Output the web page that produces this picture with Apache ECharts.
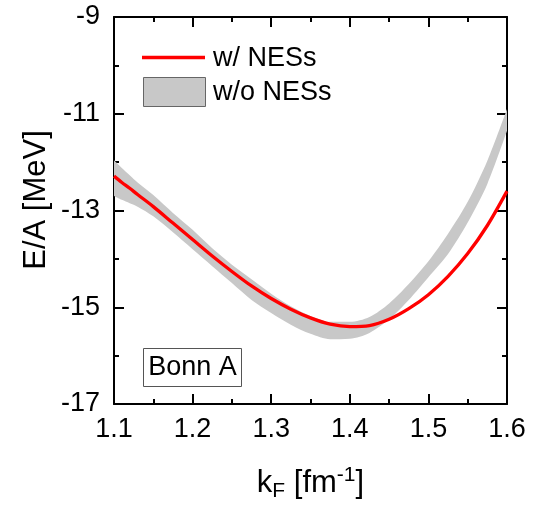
<!DOCTYPE html>
<html>
<head>
<meta charset="utf-8">
<script src="https://cdn.jsdelivr.net/npm/echarts@6/dist/echarts.min.js"></script>
<style>
  html, body { margin: 0; padding: 0; background: #fff; }
  #chart { width: 542px; height: 507px; }
</style>
</head>
<body>
<div id="chart"></div>
<script>
// k_F grid (fm^-1)
var kF = [1.10, 1.11, 1.12, 1.13, 1.15, 1.175, 1.20, 1.225, 1.25, 1.275, 1.30, 1.325, 1.35,
          1.375, 1.40, 1.425, 1.45, 1.475, 1.50, 1.525, 1.55, 1.575, 1.60];
// E/A with NESs (red line)
var withNES = [-12.29, -12.42, -12.54, -12.67, -12.92, -13.26, -13.60, -13.94, -14.26, -14.56, -14.82, -15.04, -15.22,
               -15.35, -15.40, -15.38, -15.25, -15.03, -14.74, -14.36, -13.89, -13.31, -12.60];
// E/A without NESs (grey band)
var noNESLow = [-12.70, -12.78, -12.85, -12.92, -13.12, -13.45, -13.80, -14.15, -14.50, -14.85, -15.12, -15.36, -15.55,
                -15.66, -15.65, -15.53, -15.25, -14.85, -14.38, -13.90, -13.25, -12.45, -11.35];
var noNESHigh = [-11.96, -12.12, -12.27, -12.42, -12.68, -13.05, -13.40, -13.78, -14.12, -14.42, -14.72, -14.98, -15.18,
                 -15.30, -15.30, -15.20, -14.92, -14.52, -14.05, -13.48, -12.82, -11.97, -10.90];
var xTicks = [1.1, 1.2, 1.3, 1.4, 1.5, 1.6];
var yTicks = [-17, -15, -13, -11, -9];

var FONT = '"Liberation Sans", Arial, sans-serif';

// band rows are [E, kF] so the stack works on the E column
var bandBase = [], bandWidth = [], redLine = [];
for (var i = 0; i < kF.length; i++) {
  bandBase.push([noNESLow[i], kF[i]]);
  bandWidth.push([+(noNESHigh[i] - noNESLow[i]).toFixed(3), kF[i]]);
  redLine.push([kF[i], withNES[i]]);
}

function axisCommon(extra) {
  var a = {
    type: 'value',
    axisLine: {show: true, onZero: false, lineStyle: {color: '#000', width: 2}},
    axisTick: {show: true, inside: true, length: 10, lineStyle: {color: '#000', width: 2}},
    minorTick: {show: true, splitNumber: 2, length: 5, lineStyle: {color: '#000', width: 2}},
    splitLine: {show: false},
    minorSplitLine: {show: false}
  };
  for (var k in extra) a[k] = extra[k];
  return a;
}

var chart = echarts.init(document.getElementById('chart'));
chart.setOption({
  animation: false,
  grid: {left: 114, right: 35, top: 17, bottom: 99},
  xAxis: [
    axisCommon({
      position: 'bottom', min: xTicks[0], max: xTicks[xTicks.length - 1], interval: 0.1,
      axisLabel: {margin: 12, fontSize: 27, color: '#000', fontFamily: FONT,
        formatter: function (v) { return v.toFixed(1); }},
      name: 'k{sub|F} [fm{sup|-1}]', nameLocation: 'middle', nameGap: 61,
      nameTextStyle: {fontSize: 31, color: '#000', fontFamily: FONT,
        rich: {
          sub: {fontSize: 21, color: '#000', fontFamily: FONT, verticalAlign: 'bottom', padding: [16, 0, 0, 0]},
          sup: {fontSize: 21, color: '#000', fontFamily: FONT, verticalAlign: 'top', padding: [0, 0, 13, 0]}
        }}
    }),
    axisCommon({
      position: 'top', min: xTicks[0], max: xTicks[xTicks.length - 1], interval: 0.1,
      axisLabel: {show: false}
    })
  ],
  yAxis: [
    axisCommon({
      position: 'left', min: yTicks[0], max: yTicks[yTicks.length - 1], interval: 2,
      axisLabel: {margin: 14, fontSize: 27, color: '#000', fontFamily: FONT}
    }),
    axisCommon({
      position: 'right', min: yTicks[0], max: yTicks[yTicks.length - 1], interval: 2,
      axisLabel: {show: false}
    })
  ],
  graphic: [
    {
      type: 'text', x: 36, y: 200, rotation: Math.PI / 2,
      style: {text: 'E/A [MeV]', font: '31px ' + FONT, fill: '#000', align: 'center', verticalAlign: 'middle'}
    },
    // legend
    {
      type: 'line', shape: {x1: 142, y1: 57.5, x2: 205, y2: 57.5},
      style: {stroke: '#ff0000', lineWidth: 3.5}, z: 10
    },
    {
      type: 'text', x: 213, y: 59, z: 10,
      style: {text: 'w/ NESs', font: '27px ' + FONT, fill: '#000', align: 'left', verticalAlign: 'middle'}
    },
    {
      type: 'rect', shape: {x: 143.5, y: 77.5, width: 62, height: 29},
      style: {fill: '#c8c8c8', stroke: '#666', lineWidth: 1}, z: 10
    },
    {
      type: 'text', x: 213, y: 93, z: 10,
      style: {text: 'w/o NESs', font: '27px ' + FONT, fill: '#000', align: 'left', verticalAlign: 'middle'}
    },
    // model label
    {
      type: 'rect', shape: {x: 143.5, y: 348.5, width: 98, height: 38},
      style: {fill: '#fff', stroke: '#555', lineWidth: 1}, z: 10
    },
    {
      type: 'text', x: 192.5, y: 368, z: 11,
      style: {text: 'Bonn A', font: '27px ' + FONT, fill: '#000', align: 'center', verticalAlign: 'middle'}
    }
  ],
  series: [
    {
      name: 'base', type: 'line', stack: 'band', stackStrategy: 'all', data: bandBase,
      encode: {x: 1, y: 0}, smooth: 0.3,
      symbol: 'none', lineStyle: {opacity: 0}, silent: true
    },
    {
      name: 'w/o NESs', type: 'line', stack: 'band', stackStrategy: 'all', data: bandWidth,
      encode: {x: 1, y: 0}, smooth: 0.3,
      symbol: 'none', lineStyle: {width: 0, color: '#c8c8c8'}, itemStyle: {color: '#c8c8c8'},
      areaStyle: {color: '#c8c8c8', opacity: 1}
    },
    {
      name: 'w/ NESs', type: 'line', data: redLine, smooth: 0.3, symbol: 'none',
      lineStyle: {color: '#ff0000', width: 3.3}, itemStyle: {color: '#ff0000'}, z: 5
    }
  ]
});
</script>
</body>
</html>
